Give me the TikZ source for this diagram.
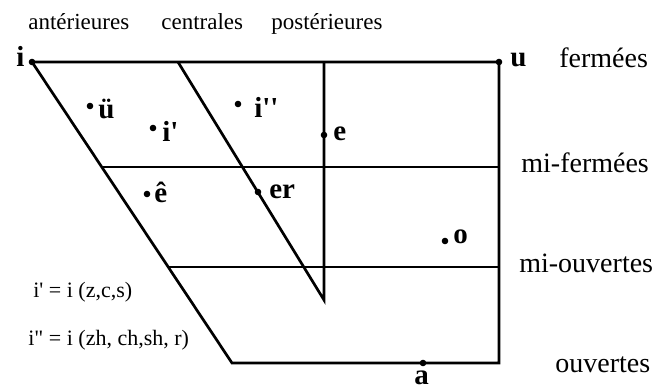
\documentclass[tikz,border=0pt]{standalone}
\usepackage{fontspec}
\setmainfont{Liberation Serif}
\begin{document}
\begin{tikzpicture}[x=1pt, y=-1pt, line width=2.7pt,
    voyelle/.style={font=\fontsize{29}{29}\selectfont\bfseries, inner sep=0pt, anchor=base west},
    langue/.style={font=\fontsize{23}{23}\selectfont, inner sep=0pt, anchor=base west},
    degre/.style={font=\fontsize{28}{28}\selectfont, inner sep=0pt, anchor=base west},
    note/.style={font=\fontsize{22}{22}\selectfont, inner sep=0pt, anchor=base west}]
    \useasboundingbox (0,0) rectangle (658,390);

    % Coins du trapèze
    \coordinate (I) at (32,62);
    \coordinate (U) at (499,62);
    \coordinate (UB) at (499,363);
    \coordinate (AB) at (232,363);

    % Lignes des degrés d'aperture
    \coordinate (MFg) at (102,167);
    \coordinate (MFd) at (499,167);
    \coordinate (MOg) at (168,267);
    \coordinate (MOd) at (499,267);

    % Ligne centrale et verticale
    \coordinate (Ch) at (178,62);
    \coordinate (Cb) at (324,300);
    \coordinate (Vh) at (324,62);

    % Trapèze
    \draw (I) -- (U) -- (UB) -- (AB) -- cycle;
    \draw (MFg) -- (MFd);
    \draw (MOg) -- (MOd);
    \draw (Ch) -- (Cb) -- (Vh);

    % Voyelles
    \coordinate (ü) at (90,106);
    \coordinate (i1) at (153,128);
    \coordinate (i2) at (238,104);
    \coordinate (e) at (324,135);
    \coordinate (ê) at (147,194);
    \coordinate (er) at (258,192);
    \coordinate (o) at (445,241);
    \coordinate (a) at (423,363);

    \foreach \p in {I,U,ü,i1,i2,e,ê,er,o,a}
        \fill (\p) circle (3.3pt);

    \node[voyelle] (lI) at (15,67) {i};
    \node[voyelle] (lU) at (509,67) {u};
    \node[voyelle] (lü) at (97,119) {ü};
    \node[voyelle] (li1) at (161,142) {i\textquotesingle};
    \node[voyelle] (li2) at (253,118) {i\textquotesingle\textquotesingle};
    \node[voyelle] (le) at (332,141) {e};
    \node[voyelle] (lê) at (153,203) {ê};
    \node[voyelle] (ler) at (268,198) {er};
    \node[voyelle] (lo) at (452,243) {o};
    \node[voyelle] (la) at (413,384) {a};

    % Position de la langue
    \node[langue] (ant) at (27,30) {antérieures};
    \node[langue] (cen) at (160,30) {centrales};
    \node[langue] (pos) at (270,30) {postérieures};

    % Degrés d'aperture
    \node[degre] (fer) at (558,68) {fermées};
    \node[degre] (mif) at (520,172) {mi-fermées};
    \node[degre] (mio) at (518,272) {mi-ouvertes};
    \node[degre] (ouv) at (554,372) {ouvertes};

    % Remarques
    \node[note] (n1) at (32,297) {i\textquotesingle{} = i (z,c,s)};
    \node[note] (n2) at (27,345) {i\textquotedbl{} = i (zh, ch,sh, r)};
\end{tikzpicture}
\end{document}
